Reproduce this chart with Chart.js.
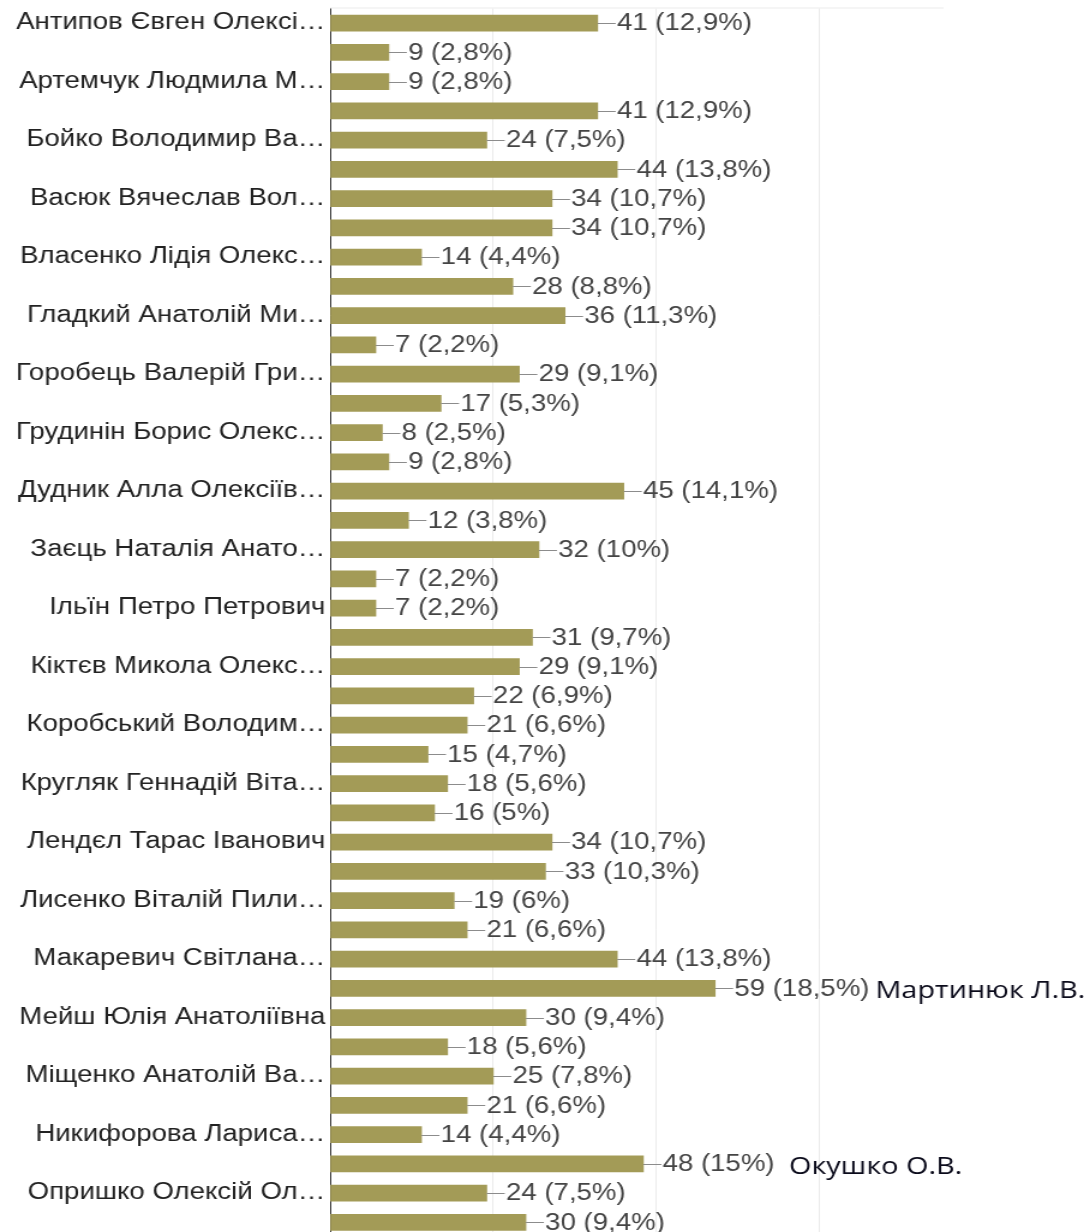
<!DOCTYPE html>
<html>
<head>
<meta charset="utf-8">
<script src="https://cdn.jsdelivr.net/npm/chart.js@4.4.1/dist/chart.umd.min.js"></script>
<style>
  html, body { margin: 0; padding: 0; background: #fff; overflow: hidden; }
  #wrap { width: 1084px; height: 1232px; overflow: hidden; }
</style>
</head>
<body>
<!-- the source screenshot is stretched sideways, so the canvas is stretched too -->
<div id="wrap"><canvas id="votesChart" width="903" height="1237" style="width:1084px;height:1237px"></canvas></div>
<script>
// names as shown on the axis (every other row has no visible label)
const names = [
  "Антипов Євген Олексі…", "", "Артемчук Людмила М…", "",
  "Бойко Володимир Ва…", "", "Васюк Вячеслав Вол…", "",
  "Власенко Лідія Олекс…", "", "Гладкий Анатолій Ми…", "",
  "Горобець Валерій Гри…", "", "Грудинін Борис Олекс…", "",
  "Дудник Алла Олексіїв…", "", "Заєць Наталія Анато…", "",
  "Ільїн Петро Петрович", "", "Кіктєв Микола Олекс…", "",
  "Коробський Володим…", "", "Кругляк Геннадій Віта…", "",
  "Лендєл Тарас Іванович", "", "Лисенко Віталій Пили…", "",
  "Макаревич Світлана…", "", "Мейш Юлія Анатоліївна", "",
  "Міщенко Анатолій Ва…", "", "Никифорова Лариса…", "",
  "Опришко Олексій Ол…", ""
];

const votes = [
  41, 9, 9, 41, 24, 44, 34, 34, 14, 28, 36, 7, 29, 17,
  8, 9, 45, 12, 32, 7, 7, 31, 29, 22, 21, 15, 18, 16,
  34, 33, 19, 21, 44, 59, 30, 18, 25, 21, 14, 48, 24, 30
];

const shares = [
  "12,9", "2,8", "2,8", "12,9", "7,5", "13,8", "10,7", "10,7", "4,4", "8,8", "11,3", "2,2", "9,1", "5,3",
  "2,5", "2,8", "14,1", "3,8", "10", "2,2", "2,2", "9,7", "9,1", "6,9", "6,6", "4,7", "5,6", "5",
  "10,7", "10,3", "6", "6,6", "13,8", "18,5", "9,4", "5,6", "7,8", "6,6", "4,4", "15", "7,5", "9,4"
];

// hand-written notes next to two of the bars
const notes = [
  { row: 33, text: "Мартинюк Л.В.", gap: 5 },
  { row: 39, text: "Окушко О.В.", gap: 12 }
];

const labelFont = "23px 'Liberation Sans', Arial, sans-serif";

const barLabels = {
  id: "barLabels",
  beforeDatasetsDraw(chart) {
    const { ctx, chartArea } = chart;
    ctx.save();
    ctx.strokeStyle = "#ebebeb";
    ctx.lineWidth = 1;
    ctx.beginPath();
    ctx.moveTo(chartArea.left, chartArea.top - 0.5);
    ctx.lineTo(chartArea.right, chartArea.top - 0.5);
    ctx.stroke();
    ctx.restore();
  },
  afterDatasetsDraw(chart) {
    const { ctx } = chart;
    const bars = chart.getDatasetMeta(0).data;
    ctx.save();
    ctx.font = labelFont;
    ctx.textBaseline = "middle";
    ctx.textAlign = "left";
    bars.forEach((bar, i) => {
      const y = Math.round(bar.y) + 0.5;
      ctx.strokeStyle = "#8c8c8c";
      ctx.lineWidth = 1;
      ctx.beginPath();
      ctx.moveTo(bar.x, y);
      ctx.lineTo(bar.x + 15, y);
      ctx.stroke();
      const txt = votes[i] + " (" + shares[i] + "%)";
      ctx.fillStyle = "#444";
      ctx.fillText(txt, bar.x + 16, bar.y + 1);
      const note = notes.find(n => n.row === i);
      if (note) {
        const w = ctx.measureText(txt).width;
        ctx.save();
        ctx.font = "24px 'Open Sans', 'Noto Sans', sans-serif";
        ctx.fillStyle = "#0a0a1a";
        ctx.fillText(note.text, bar.x + 16 + w + note.gap, bar.y + 3);
        ctx.restore();
      }
    });
    ctx.restore();
  }
};

new Chart(document.getElementById("votesChart"), {
  type: "bar",
  data: {
    labels: names.map((n, i) => n || " " + i),
    datasets: [{
      data: votes,
      backgroundColor: "#a39b57",
      barThickness: 16
    }]
  },
  options: {
    indexAxis: "y",
    responsive: false,
    animation: false,
    devicePixelRatio: 1,
    layout: { padding: { top: 8.5, right: 117, bottom: 0, left: 0 } },
    plugins: { legend: { display: false }, tooltip: { enabled: false } },
    scales: {
      x: {
        min: 0,
        max: 94,
        ticks: { display: false, stepSize: 25 },
        border: { display: false },
        grid: {
          drawTicks: false,
          color: c => (c.tick && c.tick.value > 0 && c.tick.value % 25 === 0) ? "#ebebeb" : "rgba(0,0,0,0)"
        }
      },
      y: {
        grid: { display: false, drawTicks: false },
        border: { display: true, color: "#333", width: 1 },
        afterFit: scale => {
          scale.width = 275;
          scale.paddingTop = 0;
          scale.paddingBottom = 0;
        },
        ticks: {
          autoSkip: false,
          padding: 4,
          color: "#222",
          font: { family: "'Liberation Sans', Arial, sans-serif", size: 23 },
          callback: (v, i) => names[i]
        }
      }
    }
  },
  plugins: [barLabels]
});
</script>
</body>
</html>
